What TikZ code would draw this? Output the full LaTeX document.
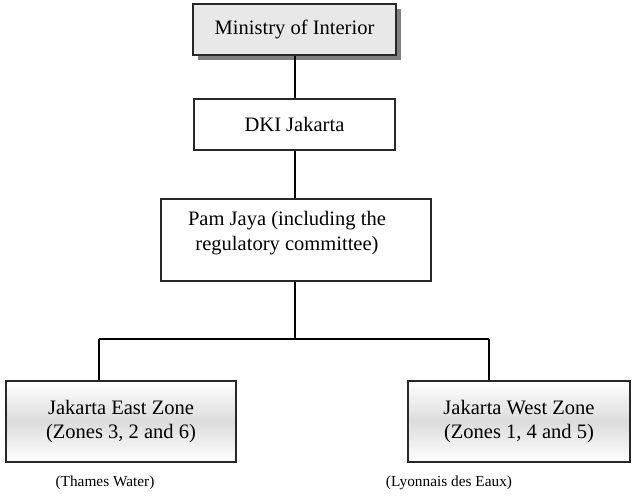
\documentclass[tikz,border=0pt]{standalone}
\usepackage{fontspec}
\setmainfont{Liberation Serif}
\usepackage{tikz}
\usetikzlibrary{positioning, shadows, calc}
\definecolor{boxgray}{RGB}{232,232,232}
\definecolor{shadegray}{RGB}{220,220,220}
\definecolor{edgegray}{RGB}{40,40,40}
\definecolor{castgray}{RGB}{128,128,128}
\tikzset{
    orgbox/.style={rectangle, draw=edgegray, fill=white, line width=1pt, inner sep=0pt, align=center, font=\fontsize{15.4}{18.5}\selectfont},
    orgshadowed/.style={orgbox, fill=boxgray, drop shadow={opacity=1, fill=castgray, shadow xshift=3.75pt, shadow yshift=-3.75pt}},
    orgshaded/.style={orgbox, top color=white, bottom color=white, middle color=shadegray},
    orgtext/.style={align=center, inner sep=0pt, font=\fontsize{15.4}{18.5}\selectfont},
    organnot/.style={inner sep=0pt, font=\fontsize{11.5}{13.5}\selectfont},
    orgline/.style={line width=1pt, black}
}

\begin{document}
\begin{tikzpicture}[x=0.75pt, y=-0.75pt]

\useasboundingbox (0,0) rectangle (635,496);

\node[orgshadowed, minimum width=152.25pt, minimum height=38.25pt] (ministry) at (294.5,29.5) {Ministry of Interior};
\node[orgbox, minimum width=150.75pt, minimum height=38.25pt] (dki) at (294.5,124.5) {DKI Jakarta};
\node[orgbox, minimum width=202.5pt, minimum height=61.5pt] (pamjaya) at (296,240) {};
\node[orgtext] (pamtext) at (287,233) {Pam Jaya (including the\\regulatory committee)};

\node[orgshaded, minimum width=172.5pt, minimum height=60.75pt] (east) at (121,421.5) {Jakarta East Zone\\(Zones 3, 2 and 6)};
\node[orgshaded, minimum width=166.5pt, minimum height=60.75pt] (west) at (519,421.5) {Jakarta West Zone\\(Zones 1, 4 and 5)};

\node[organnot] (eastop) at (105,483) {(Thames Water)};
\node[organnot] (westop) at (449,483) {(Lyonnais des Eaux)};

\coordinate (split) at (295,339);
\coordinate (eastdrop) at (99,339);
\coordinate (westdrop) at (489,339);

\draw[orgline] (ministry.south -| split) -- (dki.north -| split);
\draw[orgline] (dki.south -| split) -- (pamjaya.north -| split);
\draw[orgline] (pamjaya.south -| split) -- (split);
\draw[orgline] (eastdrop) -- (westdrop);
\draw[orgline] (eastdrop) -- (eastdrop |- east.north);
\draw[orgline] (westdrop) -- (westdrop |- west.north);

\end{tikzpicture}
\end{document}
